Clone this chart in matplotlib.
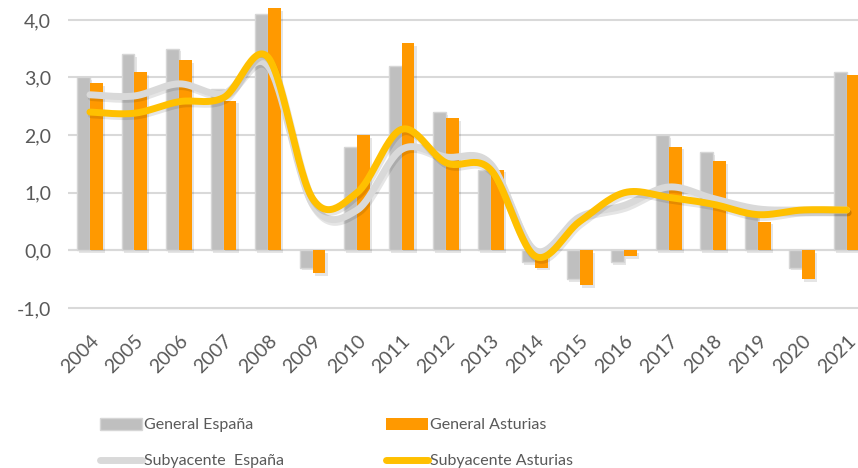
import numpy as np
import matplotlib
matplotlib.use("Agg")
import matplotlib.pyplot as plt
import matplotlib.patheffects as pe
from matplotlib.patches import Patch
from matplotlib.lines import Line2D

# datos (tasa de variación media anual, %)
years = [str(y) for y in range(2004, 2022)]
general_espana = [3.0, 3.4, 3.5, 2.8, 4.1, -0.3, 1.8, 3.2, 2.4, 1.4, -0.2, -0.5, -0.2, 2.0, 1.7, 0.75, -0.3, 3.1]
general_asturias = [2.9, 3.1, 3.3, 2.6, 4.2, -0.4, 2.0, 3.6, 2.3, 1.4, -0.3, -0.6, -0.1, 1.8, 1.55, 0.5, -0.5, 3.05]
sub_espana = [2.7, 2.68, 2.89, 2.72, 3.2, 0.8, 0.7, 1.75, 1.62, 1.5, 0.0, 0.58, 0.78, 1.1, 0.9, 0.72, 0.7, 0.7]
sub_asturias = [2.4, 2.38, 2.58, 2.65, 3.35, 0.9, 1.0, 2.1, 1.52, 1.4, -0.1, 0.5, 1.0, 0.92, 0.8, 0.62, 0.7, 0.7]

TXT = "#595959"
plt.rcParams["font.family"] = ["Lato", "DejaVu Sans"]


def smooth(xs, ys, n=30):
    # curva suavizada tipo Excel (Catmull-Rom / Bezier)
    xs = np.asarray(xs, float)
    ys = np.asarray(ys, float)
    px = np.concatenate([[xs[0]], xs, [xs[-1]]])
    py = np.concatenate([[ys[0]], ys, [ys[-1]]])
    outx, outy = [], []
    t = np.linspace(0, 1, n)
    for i in range(1, len(px) - 2):
        p0 = np.array([px[i], py[i]])
        p3 = np.array([px[i + 1], py[i + 1]])
        c1 = p0 + (np.array([px[i + 1], py[i + 1]]) - np.array([px[i - 1], py[i - 1]])) / 6
        c2 = p3 - (np.array([px[i + 2], py[i + 2]]) - np.array([px[i], py[i]])) / 6
        b = ((1 - t) ** 3)[:, None] * p0 + (3 * (1 - t) ** 2 * t)[:, None] * c1 \
            + (3 * (1 - t) * t ** 2)[:, None] * c2 + (t ** 3)[:, None] * p3
        outx.extend(b[:, 0])
        outy.extend(b[:, 1])
    return outx, outy


fig = plt.figure(figsize=(8.58, 4.68), dpi=100)
ax = fig.add_axes([67.7 / 858, 1 - 310 / 468, (869 - 67.7) / 858, 310 / 468])

x = np.arange(len(years))
w = 0.29
bar_shadow = [pe.SimplePatchShadow(offset=(1.5, -2), shadow_rgbFace="#000000", alpha=0.1), pe.Normal()]
b1 = ax.bar(x - w / 2, general_espana, w, color="#BFBFBF", edgecolor="#D6D6D6", linewidth=1, zorder=2)
b2 = ax.bar(x + w / 2, general_asturias, w, color="#FF9900", linewidth=0, zorder=2)
for r in list(b1) + list(b2):
    r.set_path_effects(bar_shadow)

line_shadow = [pe.SimpleLineShadow(offset=(1, -2), shadow_color="#000000", alpha=0.1), pe.Normal()]
sx, sy = smooth(x, sub_espana)
ax.plot(sx, sy, color="#D9D9D9", lw=5, solid_capstyle="round", zorder=3, path_effects=line_shadow)
ax2x, ax2y = smooth(x, sub_asturias)
ax.plot(ax2x, ax2y, color="#FFC000", lw=5, solid_capstyle="round", zorder=4, path_effects=line_shadow)

ax.set_xlim(-0.5, len(years) - 0.5)
ax.set_ylim(-1.035, 4.345)
ax.set_yticks([-1, 0, 1, 2, 3, 4])
ax.set_yticklabels([f"{v:.1f}".replace(".", ",") for v in [-1, 0, 1, 2, 3, 4]])
ax.yaxis.grid(True, color="#D9D9D9", lw=1.5, zorder=0)
ax.set_axisbelow(True)
for s in ax.spines.values():
    s.set_visible(False)
ax.axhline(0, color="#D9D9D9", lw=1.5, zorder=1)
ax.tick_params(axis="y", length=0, pad=12, labelsize=14, labelcolor=TXT)
ax.set_xticks(x)
ax.set_xticklabels(years, rotation=45, ha="right", rotation_mode="anchor")
ax.tick_params(axis="x", length=0, pad=16, labelsize=14, labelcolor=TXT)

h1 = [Patch(facecolor="#BFBFBF", edgecolor="#D6D6D6"),
      Line2D([], [], color="#D9D9D9", lw=5, solid_capstyle="round")]
h2 = [Patch(facecolor="#FF9900"),
      Line2D([], [], color="#FFC000", lw=5, solid_capstyle="round")]
kw = dict(frameon=False, loc="upper left", borderpad=0, borderaxespad=0, fontsize=11.5,
          labelcolor=TXT, handlelength=2.6, handleheight=0.75, handletextpad=0.15, labelspacing=1.35)
fig.legend(h1, ["General España", "Subyacente  España"], bbox_to_anchor=(100 / 858, 1 - 418 / 468), **kw)
fig.legend(h2, ["General Asturias", "Subyacente Asturias"], bbox_to_anchor=(386 / 858, 1 - 418 / 468), **kw)

fig.savefig("out.png", dpi=100)
